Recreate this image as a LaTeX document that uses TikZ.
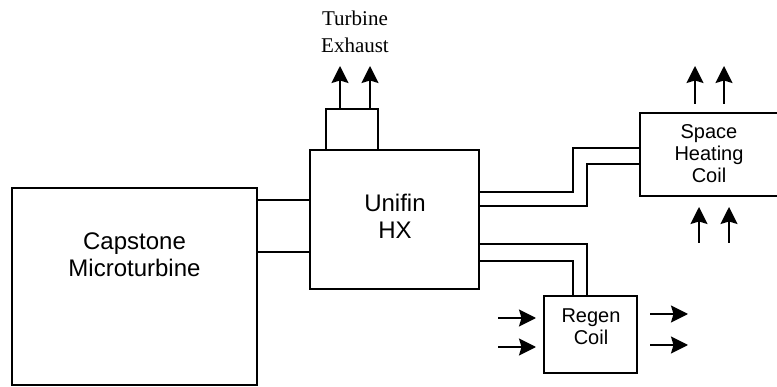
\documentclass[tikz,border=0pt]{standalone}
\usepackage{fontspec}
\setmainfont{Liberation Sans}
\newfontfamily\exfont{Liberation Serif}
\usetikzlibrary{arrows.meta}
\begin{document}
\begin{tikzpicture}[x=1pt,y=-1pt, line width=1.8pt,
  box/.style={draw, inner sep=0pt, outer sep=0pt},
  lbl/.style={align=center, inner sep=0pt, font=\fontsize{24}{27}\selectfont},
  slbl/.style={align=center, inner sep=0pt, font=\fontsize{20}{22}\selectfont},
  elbl/.style={align=center, inner sep=0pt, font=\exfont\fontsize{21}{27}\selectfont},
  flow/.style={-{Stealth[length=17pt,width=17pt,inset=2.5pt]}},
  pipe/.style={line join=miter}]
\useasboundingbox (0,0) rectangle (777,387);
\clip (0,0) rectangle (777,387);
% boxes
\node[box, minimum width=245pt, minimum height=197pt] (cap) at (134.5,286.5) {};
\node[box, minimum width=169pt, minimum height=139pt] (hx) at (394.5,219.5) {};
\node[box, minimum width=52pt, minimum height=41pt, anchor=south] (ex) at (352,150) {};
\node[box, minimum width=138pt, minimum height=83pt] (shc) at (709,154.5) {};
\node[box, minimum width=93pt, minimum height=77pt] (reg) at (590.5,334.5) {};
% labels
\node[lbl] (capt) at (134.5,254.7) {Capstone\\Microturbine};
\node[lbl] (hxt) at (395,216.7) {Unifin\\HX};
\node[slbl] (shct) at (709,153.7) {Space\\Heating\\Coil};
\node[slbl] (regt) at (591,326.9) {Regen\\Coil};
\node[elbl] (ext) at (355,31.4) {Turbine\\Exhaust};
% pipes capstone -> HX
\draw[pipe] (cap.east |- 0,200) -- (hx.west |- 0,200);
\draw[pipe] (cap.east |- 0,252) -- (hx.west |- 0,252);
% pipes HX -> space heating coil
\draw[pipe] (hx.east |- 0,192) -- (573,192) -- (573,148) -- (shc.west |- 0,148);
\draw[pipe] (hx.east |- 0,206) -- (587,206) -- (587,164) -- (shc.west |- 0,164);
% pipes HX -> regen coil
\draw[pipe] (hx.east |- 0,244) -- (587,244) -- (reg.north -| 587,0);
\draw[pipe] (hx.east |- 0,261) -- (573,261) -- (reg.north -| 573,0);
% exhaust arrows
\coordinate (ex1) at (340,66);
\coordinate (ex2) at (370,66);
\draw[flow] (ex.north -| ex1) -- (ex1);
\draw[flow] (ex.north -| ex2) -- (ex2);
% space heating arrows
\coordinate (sa1) at (695,104); \coordinate (sb1) at (695,66);
\coordinate (sa2) at (724,104); \coordinate (sb2) at (724,66);
\draw[flow] (sa1) -- (sb1);
\draw[flow] (sa2) -- (sb2);
\coordinate (sc1) at (699,243); \coordinate (sd1) at (699,207);
\coordinate (sc2) at (729,243); \coordinate (sd2) at (729,207);
\draw[flow] (sc1) -- (sd1);
\draw[flow] (sc2) -- (sd2);
% regen arrows
\coordinate (ra1) at (498,318); \coordinate (rb1) at (536,318);
\coordinate (ra2) at (498,347); \coordinate (rb2) at (536,347);
\draw[flow] (ra1) -- (rb1);
\draw[flow] (ra2) -- (rb2);
\coordinate (rc1) at (650,314); \coordinate (rd1) at (688,314);
\coordinate (rc2) at (650,345); \coordinate (rd2) at (688,345);
\draw[flow] (rc1) -- (rd1);
\draw[flow] (rc2) -- (rd2);
\end{tikzpicture}
\end{document}
